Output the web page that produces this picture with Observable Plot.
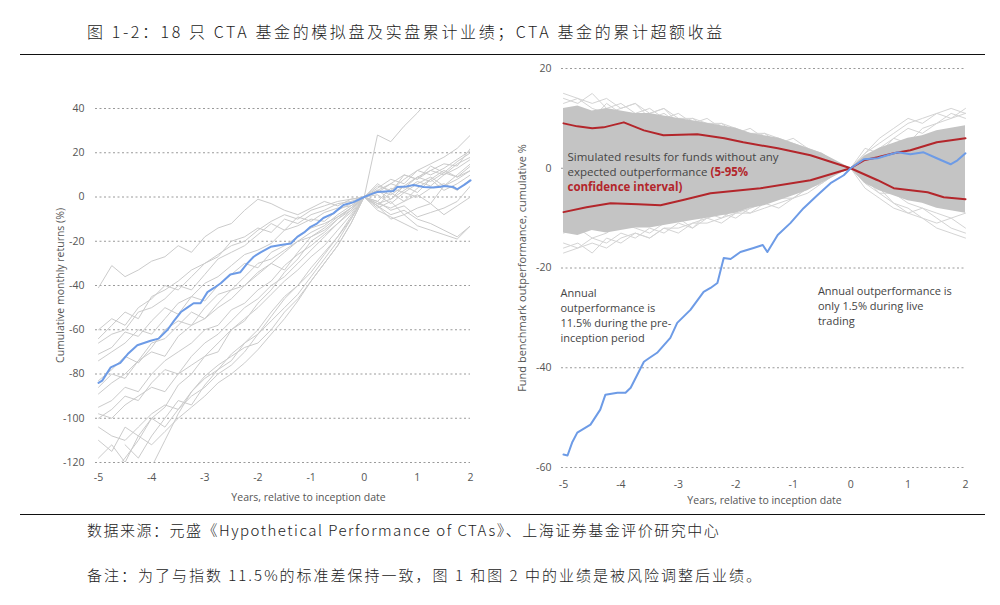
<!DOCTYPE html>
<html><head><meta charset="utf-8">
<script src="https://cdn.jsdelivr.net/npm/d3@7"></script>
<script src="https://cdn.jsdelivr.net/npm/@observablehq/plot@0.6"></script>
<style>
body{margin:0;background:#fff;width:1000px;height:605px;position:relative;overflow:hidden;font-family:"Noto Sans CJK SC",sans-serif;}
.rule{position:absolute;left:20px;width:965px;height:0;border-top:1.3px solid #111;}
.cn{position:absolute;left:87px;color:#222;white-space:nowrap;line-height:22px;font-weight:300;}
#title{top:20px;font-size:16px;letter-spacing:2.6px;}
#source{top:519px;font-size:15px;letter-spacing:1.5px;}
#note{top:564px;font-size:15px;letter-spacing:2.0px;}
#left{position:absolute;left:0;top:90px;}
#right{position:absolute;left:500px;top:55px;}
</style></head>
<body>
<div class="cn" id="title">图 1-2：18 只 CTA 基金的模拟盘及实盘累计业绩；CTA 基金的累计超额收益</div>
<div class="rule" style="top:54px"></div>
<div id="left"></div>
<div id="right"></div>
<div class="rule" style="top:514px"></div>
<div class="cn" id="source">数据来源：元盛《Hypothetical Performance of CTAs》、上海证券基金评价研究中心</div>
<div class="cn" id="note">备注：为了与指数 11.5%的标准差保持一致，图 1 和图 2 中的业绩是被风险调整后业绩。</div>
<script>
// ---------- shared time grid (years relative to inception) ----------
const years = [-5,-4.75,-4.5,-4.25,-4,-3.75,-3.5,-3.25,-3,-2.75,-2.5,-2.25,-2,-1.75,-1.5,-1.25,-1,-0.75,-0.5,-0.25,0,0.25,0.5,0.75,1,1.25,1.5,1.75,2];
const xTicks = [-5,-4,-3,-2,-1,0,1,2];

// ---------- left panel: 18 CTA funds, cumulative monthly returns (%) ----------
const fund01 = [-41,-31,-36,-33,-29,-27,-22,-25,-18,-14,-12,-6,-1,-3,-6,-8,-5,-2,-4,-1,0,3,6,4,9,12,10,15,18];
const fund02 = [-64,-58,-52,-55,-45,-42,-38,-33,-30,-27,-20,-18,-14,-16,-10,-12,-8,-6,-3,-2,0,-3,-5,-2,1,-3,5,8,12];
const fund03 = [-66,-62,-60,-52,-50,-46,-40,-42,-35,-28,-25,-22,-17,-12,-15,-9,-11,-7,-5,-4,0,6,2,10,8,14,11,16,20];
const fund04 = [-71,-68,-61,-63,-56,-50,-53,-45,-39,-36,-31,-26,-24,-21,-15,-13,-10,-11,-6,-3,0,28,25,32,38,45,null,null,null];
const fund05 = [-74,-70,-66,-60,-62,-55,-48,-45,-47,-40,-35,-30,-32,-25,-22,-18,-14,-12,-9,-5,0,-4,-8,-6,-10,-12,-15,-18,-13];
const fund06 = [-83,-78,-72,-75,-68,-60,-56,-58,-50,-44,-42,-36,-30,-28,-24,-20,-16,-13,-8,-4,0,-6,-9,-12,-15,null,null,null,null];
const fund07 = [-89,-84,-80,-74,-70,-72,-63,-58,-55,-50,-46,-40,-35,-30,-33,-25,-18,-15,-10,-6,0,-2,4,2,6,9,5,10,15];
const fund08 = [-95,-92,-86,-88,-80,-74,-70,-66,-60,-58,-51,-48,-42,-38,-31,-26,-22,-17,-12,-7,0,-5,-2,-8,-5,-3,-8,-4,0];
const fund09 = [-98,-100,-94,-90,-86,-88,-80,-76,-72,-66,-60,-55,-50,-44,-38,-33,-27,-22,-15,-8,0,-3,-1,3,7,5,10,13,17];
const fund10 = [-104,-108,-110,-104,-98,-94,-96,-88,-82,-78,-71,-66,-60,-52,-45,-40,-32,-25,-18,-10,0,2,6,10,8,12,15,14,22];
const fund11 = [-110,-115,-104,-108,-112,-106,-100,-95,-90,-84,-80,-75,-69,-62,-55,-47,-38,-30,-22,-12,0,-4,2,-2,4,8,3,6,10];
const fund12 = [null,-125,-118,-110,-100,-95,-85,-80,-72,-70,-60,-56,-48,-42,-34,-28,-20,-16,-10,-5,0,4,8,6,12,15,18,22,28];
const fund13 = [null,null,null,null,-122,-110,-98,-88,-81,-76,-72,-68,-66,-60,-52,-46,-38,-30,-22,-12,0,3,-1,5,2,8,12,9,14];
const fund14 = [null,null,-112,-118,-108,-100,-92,-94,-85,-78,-74,-66,-62,-54,-46,-40,-34,-26,-18,-9,0,-2,-6,-4,-9,-7,-5,-2,5];
const fund15 = [-86,-80,-82,-74,-66,-64,-58,-52,-55,-48,-42,-40,-34,-30,-25,-20,-18,-14,-9,-5,0,5,3,8,12,10,13,17,21];
const fund16 = [-60,-55,-58,-50,-46,-40,-42,-36,-30,-26,-22,-20,-15,-11,-8,-10,-6,-4,-2,-1,0,-4,-10,-8,-13,-15,-17,-19,-13];
const fund17 = [-118,-112,-120,-108,-100,-104,-96,-90,-86,-80,-76,-70,-62,-56,-50,-44,-36,-28,-20,-10,0,1,-3,2,0,4,6,3,8];
const fund18 = [-100,-96,-90,-92,-84,-78,-80,-72,-66,-62,-56,-50,-46,-40,-36,-30,-24,-18,-12,-6,0,3,1,5,9,7,11,9,12];
const leftFunds = [fund01,fund02,fund03,fund04,fund05,fund06,fund07,fund08,fund09,fund10,fund11,fund12,fund13,fund14,fund15,fund16,fund17,fund18];

// index (average) line, left panel
const indexLeftT = [-5,-4.93,-4.77,-4.59,-4.45,-4.27,-4.02,-3.87,-3.7,-3.58,-3.45,-3.33,-3.21,-3.08,-2.95,-2.82,-2.7,-2.52,-2.33,-2.2,-2.08,-1.95,-1.76,-1.57,-1.38,-1.26,-1.13,-1.01,-0.89,-0.77,-0.58,-0.39,-0.2,0,0.12,0.25,0.55,0.62,0.8,0.93,1.12,1.3,1.44,1.5,1.68,1.75,1.88,2];
const indexLeftV = [-84,-83,-77,-75,-71,-67,-65,-64,-60,-56,-52,-50,-48,-48,-43,-41,-39,-35,-34,-30,-27,-25,-22.5,-21.7,-21,-18,-16,-13.5,-12,-9.5,-7.4,-3.6,-2.3,0,1.2,2.3,2.7,4.5,4.8,5.4,4.5,4.3,4.6,5,4.5,3.5,5.5,7.5];

// ---------- right panel: benchmark outperformance, cumulative % ----------
const fundOutT = [-5,-4.93,-4.85,-4.76,-4.53,-4.36,-4.27,-4.06,-3.92,-3.83,-3.6,-3.5,-3.37,-3.14,-3.02,-2.79,-2.56,-2.44,-2.32,-2.21,-2.09,-1.92,-1.69,-1.53,-1.45,-1.27,-1.05,-0.82,-0.58,-0.35,-0.12,0,0.23,0.47,0.64,0.82,1.04,1.27,1.5,1.74,1.86,2];
const fundOutV = [-57.4,-57.6,-55,-53,-51.4,-48.4,-45.4,-45,-45,-44,-38.8,-38,-37,-34,-31,-28.4,-24.8,-24,-23,-18,-18.2,-16.8,-16,-15.4,-16.8,-13.4,-11,-8,-5.4,-3,-1.4,0,1.8,2,2.6,3.2,2.8,3.2,2,0.8,1.6,3];

const ciUpperT = [-5,-4.76,-4.5,-4.3,-3.95,-3.6,-3.26,-2.67,-2.2,-1.87,-1.27,-0.7,0,0.23,0.47,0.75,1.04,1.5,2];
const ciUpperV = [9,8.4,8.0,8.2,9.2,7.6,6.6,6.8,6.0,5.2,4,2.6,0,1.6,2.2,3,3.6,5.2,6];
const ciLowerT = [-5,-4.6,-4.18,-3.7,-3.31,-2.9,-2.44,-1.57,-0.7,0,0.47,0.75,1.34,1.62,2];
const ciLowerV = [-8.8,-7.8,-7,-7.2,-7.4,-6.3,-5,-4,-2.4,0,-2.4,-4,-4.8,-5.8,-6.2];

// simulated-fund cloud: dense band and outer spread
const denseHi = [12,12.5,11.5,12,11.5,11,11,10.5,10,9.5,9,8.5,8,7,6.5,6,5,4,3,1.5,0,2.5,4,5,6,6.5,7.5,8,8.5];
const denseLo = [-13,-13.5,-12.5,-13,-12.5,-12,-12,-11.5,-11,-10.5,-10,-9.5,-9,-8,-7.5,-6.5,-5.5,-4.5,-3,-1.5,0,-3,-4.5,-5.5,-6.5,-7,-8,-8.5,-9];
const sim01 = [14,13,15,12,13,11,12,10,11,9,10,8,7,8,6,5,6,4,3,1,0,3,5,7,9,10,11,10,12];
const sim02 = [-16,-15,-17,-14,-15,-13,-14,-12,-13,-11,-10,-11,-9,-8,-7,-8,-6,-5,-3,-1,0,-4,-6,-8,-9,-10,-12,-13,-14];
const sim03 = [11,12,10,13,11,10,11,12,9,10,8,9,7,6,7,5,4,4,2,1,0,2,4,6,5,8,9,11,10];
const sim04 = [-13,-12,-14,-13,-11,-12,-13,-11,-10,-12,-9,-10,-8,-9,-7,-6,-5,-4,-2,-1,0,-3,-5,-5,-7,-8,-9,-10,-9];
const sim05 = [13,14,12,11,12,13,10,11,9,8,9,7,8,6,5,6,4,3,2,1,0,4,3,6,8,7,9,10,11];
const sim06 = [-15,-16,-14,-15,-13,-14,-12,-13,-11,-12,-10,-9,-10,-8,-7,-6,-6,-4,-2,-1,0,-2,-5,-7,-9,-8,-10,-12,-13];
const sim07 = [15,14,13,14,12,13,11,12,10,10,9,9,8,7,7,6,5,4,2,1,0,3,6,8,10,9,11,12,11];
const sim08 = [-17,-16,-15,-16,-14,-13,-14,-12,-12,-11,-11,-10,-9,-9,-8,-7,-6,-4,-3,-1,0,-3,-4,-7,-8,-10,-11,-10,-12];
const simFunds = [sim01,sim02,sim03,sim04,sim05,sim06,sim07,sim08];

// ---------- build tables ----------
const leftRows = leftFunds.flatMap((arr, k) => arr.map((v, i) => ({fund: k, t: years[i], v})));
const indexLeft = indexLeftT.map((t, i) => ({t, v: indexLeftV[i]}));
const fundOut = fundOutT.map((t, i) => ({t, v: fundOutV[i]}));
const ciUpper = ciUpperT.map((t, i) => ({t, v: ciUpperV[i]}));
const ciLower = ciLowerT.map((t, i) => ({t, v: ciLowerV[i]}));
const band = years.map((t, i) => ({t, lo: denseLo[i], hi: denseHi[i]}));
const simRows = simFunds.flatMap((arr, k) => arr.map((v, i) => ({sim: k, t: years[i], v})));

const FONT = "'Open Sans', sans-serif";
const BLUE = "#6d9be6";
const RED = "#b3262b";
const GRID = {stroke: "#9a9a9a", strokeDasharray: "2,2.5", strokeWidth: 1};
const fmt = d => d < 0 ? "-" + Math.abs(d) : String(d);

const leftChart = Plot.plot({
  width: 500, height: 422,
  marginLeft: 98, marginRight: 30, marginTop: 18, marginBottom: 50,
  style: {fontFamily: FONT, fontSize: "10.5px", color: "#555", background: "transparent"},
  x: {domain: [-5, 2], ticks: xTicks, tickSize: 0, tickPadding: 11, label: null, tickFormat: fmt},
  y: {domain: [-120, 40], ticks: [-120,-100,-80,-60,-40,-20,0,20,40], tickSize: 0, tickPadding: 14, label: null, tickFormat: fmt},
  marks: [
    Plot.ruleY([-120,-100,-80,-60,-40,-20,0,20,40], {...GRID, insetLeft: -3}),
    Plot.line(leftRows, {x: "t", y: "v", z: "fund", stroke: "#cbcbcb", strokeWidth: 1, clip: true}),
    Plot.line(indexLeft, {x: "t", y: "v", stroke: BLUE, strokeWidth: 2}),
    Plot.text(["Years, relative to inception date"], {frameAnchor: "bottom", dx: 24, dy: 38, fontSize: 10.5, fill: "#555"}),
    Plot.text(["Cumulative monthly returns (%)"], {frameAnchor: "left", textAnchor: "middle", dx: -38, rotate: -90, fontSize: 10.5, fill: "#555"})
  ]
});
document.getElementById("left").append(leftChart);

const rightChart = Plot.plot({
  width: 490, height: 457,
  marginLeft: 63, marginRight: 25, marginTop: 13, marginBottom: 45,
  style: {fontFamily: FONT, fontSize: "10.5px", color: "#555", background: "transparent"},
  x: {domain: [-5, 2], ticks: xTicks, tickSize: 0, tickPadding: 13, label: null, tickFormat: fmt},
  y: {domain: [-60, 20], ticks: [-60,-40,-20,0,20], tickSize: 0, tickPadding: 12, label: null, tickFormat: fmt},
  marks: [
    Plot.ruleY([-60,-40,-20,0,20], {...GRID, insetLeft: -2}),
    Plot.line(simRows, {x: "t", y: "v", z: "sim", stroke: "#d4d4d4", strokeWidth: 1}),
    Plot.areaY(band, {x: "t", y1: "lo", y2: "hi", fill: "#c4c4c4", curve: "linear"}),
    Plot.line(ciUpper, {x: "t", y: "v", stroke: RED, strokeWidth: 2}),
    Plot.line(ciLower, {x: "t", y: "v", stroke: RED, strokeWidth: 2}),
    Plot.line(fundOut, {x: "t", y: "v", stroke: BLUE, strokeWidth: 2}),
    Plot.text(["Simulated results for funds without any"], {x: -5, y: 2.2, dx: 4, textAnchor: "start", fontSize: 11.5, fill: "#444"}),
    Plot.text(["expected outperformance"], {x: -5, y: -0.8, dx: 4, textAnchor: "start", fontSize: 11.5, fill: "#444"}),
    Plot.text(["(5-95%"], {x: -5, y: -0.8, dx: 147, textAnchor: "start", fontSize: 11.5, fill: RED, fontWeight: "bold"}),
    Plot.text(["confidence interval)"], {x: -5, y: -3.8, dx: 4, textAnchor: "start", fontSize: 11.5, fill: RED, fontWeight: "bold"}),
    Plot.text(["Annual\noutperformance is\n11.5% during the pre-\ninception period"], {x: -5, y: -23.7, dx: -3, textAnchor: "start", lineAnchor: "top", lineHeight: 1.35, fontSize: 11, fill: "#444"}),
    Plot.text(["Annual outperformance is\nonly 1.5% during live\ntrading"], {x: -0.57, y: -23.3, textAnchor: "start", lineAnchor: "top", lineHeight: 1.35, fontSize: 11, fill: "#444"}),
    Plot.text(["Years, relative to inception date"], {frameAnchor: "bottom", dy: 36, fontSize: 10.5, fill: "#555"}),
    Plot.text(["Fund benchmark outperformance, cumulative %"], {frameAnchor: "left", textAnchor: "middle", dx: -41, rotate: -90, fontSize: 11, fill: "#555"})
  ]
});
document.getElementById("right").append(rightChart);
</script>
</body></html>
